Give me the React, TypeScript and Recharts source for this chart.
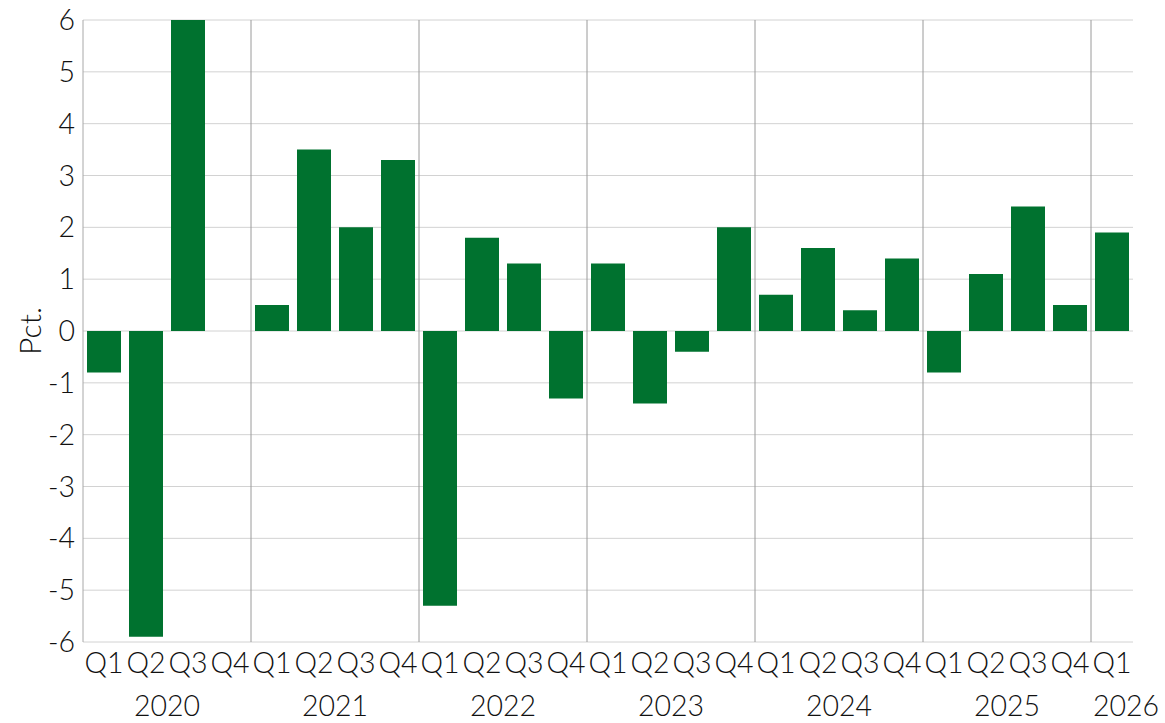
import React from "react";
import {
  BarChart,
  Bar,
  XAxis,
  YAxis,
  CartesianGrid,
} from "recharts";

const quarters = [
  "Q1", "Q2", "Q3", "Q4",
  "Q1", "Q2", "Q3", "Q4",
  "Q1", "Q2", "Q3", "Q4",
  "Q1", "Q2", "Q3", "Q4",
  "Q1", "Q2", "Q3", "Q4",
  "Q1", "Q2", "Q3", "Q4",
  "Q1",
];
const years = [
  "2020", "2020", "2020", "2020",
  "2021", "2021", "2021", "2021",
  "2022", "2022", "2022", "2022",
  "2023", "2023", "2023", "2023",
  "2024", "2024", "2024", "2024",
  "2025", "2025", "2025", "2025",
  "2026",
];
const growth = [
  -0.8, -5.9, 6.0, 0.0,
  0.5, 3.5, 2.0, 3.3,
  -5.3, 1.8, 1.3, -1.3,
  1.3, -1.4, -0.4, 2.0,
  0.7, 1.6, 0.4, 1.4,
  -0.8, 1.1, 2.4, 0.5,
  1.9,
];
const yTicks = [-6, -5, -4, -3, -2, -1, 0, 1, 2, 3, 4, 5, 6];

const data = quarters.map((q, i) => ({ q, year: years[i], idx: i, value: growth[i] }));

const W = 1165;
const H = 723;
const margin = { top: 20, right: 32, bottom: 0, left: 0 };
const Y_WIDTH = 83;
const Q_AXIS_H = 40;
const YEAR_AXIS_H = 41;
const PLOT_TOP = margin.top;
const PLOT_BOTTOM = H - Q_AXIS_H - YEAR_AXIS_H;
const STEP = (W - margin.left - margin.right - Y_WIDTH) / data.length;

const FONT = "Lato, 'Open Sans', sans-serif";
const FS = 28.5;
const GREEN = "#00722f";
const TEXT = "#111";

function YearTick(props: any) {
  const { x, y, index } = props;
  if (index % 4 !== 0) return null;
  const label = years[index];
  const groupSize = years.filter((v) => v === label).length;
  const sepX = x - STEP / 2;
  const isPartial = groupSize < 4;
  return (
    <g>
      {index > 0 && (
        <line x1={sepX} x2={sepX} y1={PLOT_TOP} y2={PLOT_BOTTOM} stroke="#9a9a9a" strokeWidth={1} />
      )}
      <text
        x={isPartial ? sepX + 2 : x + STEP * 1.5}
        y={y + 26}
        textAnchor={isPartial ? "start" : "middle"}
        fontSize={FS}
        fontFamily={FONT}
        fontWeight={300}
        fill={TEXT}
      >
        {label}
      </text>
    </g>
  );
}

export default function App() {
  return (
    <div style={{ position: "absolute", left: 0, top: 0, width: W, height: H, background: "#fff" }}>
      <BarChart width={W} height={H} data={data} margin={margin} barSize={34}>
        <CartesianGrid vertical={false} stroke="#d2d2d2" />
        <XAxis
          dataKey="idx"
          interval={0}
          height={Q_AXIS_H}
          tickLine={false}
          axisLine={false}
          tickFormatter={(v: number) => quarters[v]}
          tick={{ fontSize: FS, fontFamily: FONT, fontWeight: 300, fill: TEXT }}
          tickMargin={5}
        />
        <XAxis
          xAxisId="year"
          dataKey="idx"
          interval={0}
          height={YEAR_AXIS_H}
          tickLine={false}
          axisLine={false}
          tick={<YearTick />}
        />
        <YAxis
          width={Y_WIDTH}
          domain={[-6, 6]}
          ticks={yTicks}
          allowDataOverflow
          tickLine={false}
          axisLine={{ stroke: "#a8a8a8" }}
          tick={{ fontSize: FS, fontFamily: FONT, fontWeight: 300, fill: TEXT }}
          label={{
            value: "Pct.",
            angle: -90,
            position: "insideLeft",
            offset: 30,
            style: { fontSize: 30, fontFamily: FONT, fontWeight: 300, fill: TEXT, textAnchor: "middle" },
          }}
        />
        <Bar dataKey="value" fill={GREEN} isAnimationActive={false} />
      </BarChart>
    </div>
  );
}
